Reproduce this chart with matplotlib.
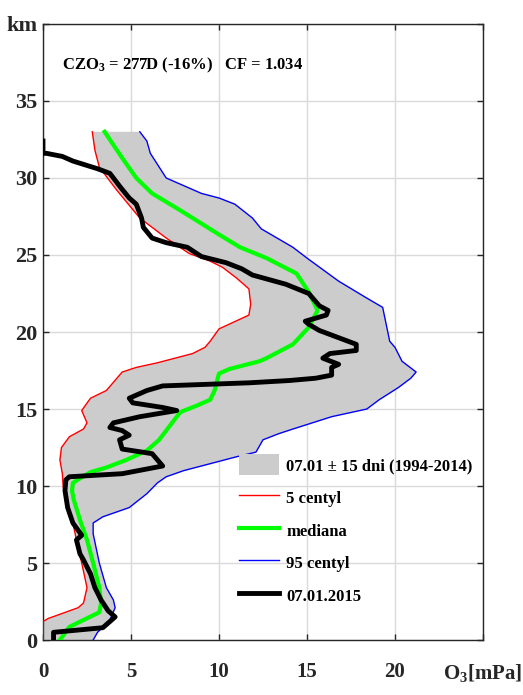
import numpy as np
import matplotlib
matplotlib.use("Agg")
import matplotlib.pyplot as plt

# Ozone profile vs climatology
plt.rcParams['font.family'] = ['Liberation Serif', 'DejaVu Serif']
plt.rcParams['font.weight'] = 'bold'
plt.rcParams['mathtext.fontset'] = 'custom'
plt.rcParams['mathtext.rm'] = 'Liberation Serif:bold'
plt.rcParams['mathtext.default'] = 'rm'

# 5 centyl (red)
p5_alt = [0.0, 1.2, 1.4, 2.1, 2.4, 3.4, 5.0, 6.5, 7.6, 9.1, 9.9, 10.8, 11.7, 12.5, 13.2,
          13.7, 14.1, 14.9, 15.7, 16.2, 17.0, 17.4, 17.7, 18.0, 18.3, 18.6, 19.0, 19.4,
          20.2, 21.1, 21.8, 22.8, 23.5, 24.2, 24.6, 25.1, 26.1, 27.4, 29.2, 30.7, 31.8, 33.0]
p5_val = [0.0, 0.0, 0.3, 2.0, 2.3, 2.5, 2.2, 1.9, 1.7, 1.35, 1.15, 1.1, 0.96, 1.05, 1.5,
          2.3, 2.5, 2.2, 2.7, 3.6, 4.2, 4.5, 5.3, 6.5, 7.5, 8.5, 9.2, 9.5,
          10.0, 11.7, 11.8, 11.7, 11.0, 10.2, 9.5, 8.3, 7.0, 5.5, 4.2, 3.2, 2.95, 2.8]

# mediana (green)
med_alt = [0.0, 0.85, 1.3, 1.8, 2.4, 3.4, 5.0, 6.5, 7.8, 9.1, 9.7, 10.2, 10.5, 10.9, 11.2,
           11.7, 12.3, 13.0, 13.9, 14.8, 15.2, 15.6, 16.2, 17.3, 17.6, 18.1, 18.3, 19.2,
           20.3, 21.4, 22.6, 23.8, 24.8, 25.5, 26.4, 27.9, 29.0, 30.0, 31.3, 33.0]
med_val = [0.96, 1.5, 2.3, 3.2, 3.3, 3.2, 2.85, 2.5, 2.1, 1.75, 1.65, 1.7, 2.1, 2.7, 3.6,
           4.75, 5.9, 6.6, 7.2, 7.8, 8.7, 9.5, 9.75, 10.0, 10.6, 12.3, 12.7, 14.2,
           15.1, 15.6, 15.1, 14.4, 12.7, 11.2, 9.9, 7.8, 6.2, 5.3, 4.5, 3.5]

# 95 centyl (blue)
p95_alt = [0.0, 0.5, 1.3, 2.1, 2.6, 3.4, 5.0, 6.9, 7.6, 8.0, 8.6, 9.5, 10.2, 10.6, 11.0,
           11.3, 11.6, 11.9, 12.2, 13.0, 13.4, 13.7, 14.5, 15.0, 15.6, 16.4, 17.0, 17.4,
           18.1, 19.0, 19.4, 20.5, 21.6, 22.2, 23.3, 24.8, 25.5, 26.7, 27.4, 28.3, 28.7,
           29.0, 29.4, 30.0, 31.6, 32.4, 33.0]
p95_val = [2.85, 3.1, 3.8, 4.1, 4.0, 3.6, 3.2, 2.85, 2.85, 3.4, 4.9, 5.9, 6.5, 7.0, 8.0,
           9.0, 10.0, 11.0, 12.1, 12.5, 13.4, 14.2, 16.4, 18.4, 19.1, 20.2, 20.9, 21.2,
           20.4, 20.0, 19.7, 19.5, 19.3, 18.4, 16.8, 15.0, 14.2, 12.4, 11.9, 10.9, 10.0,
           9.0, 8.2, 7.0, 6.1, 5.9, 5.5]

# 07.01.2015 sounding (black)
obs_alt = [-0.2, 0.5, 0.8, 1.0, 1.5, 1.9, 2.6, 3.4, 4.3, 5.2, 5.6, 6.5, 6.8, 7.6, 8.6,
           9.7, 10.4, 10.6, 10.8, 11.3, 12.1, 12.4, 13.0, 13.3, 13.6, 13.8, 14.1, 14.5,
           14.9, 15.1, 15.4, 15.7, 16.2, 16.5, 16.7, 16.85, 17.0, 17.2, 17.7, 17.9, 18.3,
           18.6, 18.8, 19.2, 20.1, 20.5, 20.7, 21.1, 21.4, 21.7, 22.5, 23.1, 23.7, 24.1,
           24.5, 24.9, 25.5, 25.8, 26.1, 26.8, 27.4, 28.3, 28.7, 29.4, 30.3, 30.6, 31.1,
           31.4, 31.6, 31.6, 32.4]
obs_val = [0.6, 0.6, 3.4, 3.6, 4.1, 3.7, 3.3, 2.95, 2.7, 2.3, 2.1, 1.9, 2.2, 1.7, 1.4,
           1.25, 1.3, 1.5, 4.5, 6.8, 6.2, 4.5, 4.35, 4.9, 4.5, 3.8, 4.0, 5.5,
           7.6, 6.8, 5.1, 4.9, 5.9, 6.8, 11.7, 14.0, 15.5, 16.4, 16.4, 16.8, 15.9,
           16.3, 17.8, 17.8, 15.7, 15.1, 14.9, 16.1, 16.2, 15.7, 15.1, 13.8, 11.9, 11.3,
           10.4, 9.0, 8.2, 7.0, 6.2, 5.7, 5.6, 5.3, 4.9, 4.4, 3.8, 3.1, 1.7,
           1.1, 0.2, 0.0, 0.0]

band_label = '07.01 ± 15 dni (1994-2014)'
series_labels = ['5 centyl', 'mediana', '95 centyl', '07.01.2015']
info_text = 'CZO$_3$ = 277D (-16%)   CF = 1.034'
xticks = [0, 5, 10, 15, 20, 25]
xticklabels = ['0', '5', '10', '15', '20', 'O$_3$[mPa]']
yticks = [0, 5, 10, 15, 20, 25, 30, 35, 40]
yticklabels = ['0', '5', '10', '15', '20', '25', '30', '35', 'km']

fig = plt.figure(figsize=(5.23, 6.95), dpi=100)
ax = fig.add_axes([0.0822, 0.0791, 0.8413, 0.8864])

# shaded band between 5 and 95 centyl
band_x = np.concatenate([p5_val, p95_val[::-1]])
band_y = np.concatenate([p5_alt, p95_alt[::-1]])
ax.fill(band_x, band_y, color='#cccccc', lw=0, label=band_label, zorder=2)

ax.plot(p5_val, p5_alt, color='#ff0000', lw=1, label=series_labels[0], zorder=3)
ax.plot(med_val, med_alt, color='#00ff00', lw=3, label=series_labels[1], zorder=3)
ax.plot(p95_val, p95_alt, color='#0000ff', lw=1, label=series_labels[2], zorder=3)
ax.plot(obs_val, obs_alt, color='black', lw=3.5, label=series_labels[3], zorder=4)

ax.set_xlim(0, 25)
ax.set_ylim(0, 40)
ax.set_xticks(xticks)
ax.set_xticklabels(xticklabels, fontsize=15)
ax.set_yticks(yticks)
ax.set_yticklabels(yticklabels, fontsize=16)
ax.tick_params(direction='in', top=True, right=True, length=4, width=1, colors='#262626')
ax.tick_params(axis='x', pad=16)
ax.tick_params(axis='y', pad=4)
ax.grid(True, color='#dadada', lw=1)
ax.set_axisbelow(True)
for s in ax.spines.values():
    s.set_color('#262626')
    s.set_linewidth(1)

ax.text(0.043, 0.932, info_text, transform=ax.transAxes, fontsize=12,
        ha='left', va='center')

leg = ax.legend(loc='upper left', bbox_to_anchor=(0.445, 0.302), frameon=False,
                fontsize=12, handlelength=2.4, handleheight=1.6, handletextpad=0.45,
                labelspacing=0.68, borderpad=0, borderaxespad=0)
leg.set_zorder(5)

fig.savefig('out.png', dpi=100)
